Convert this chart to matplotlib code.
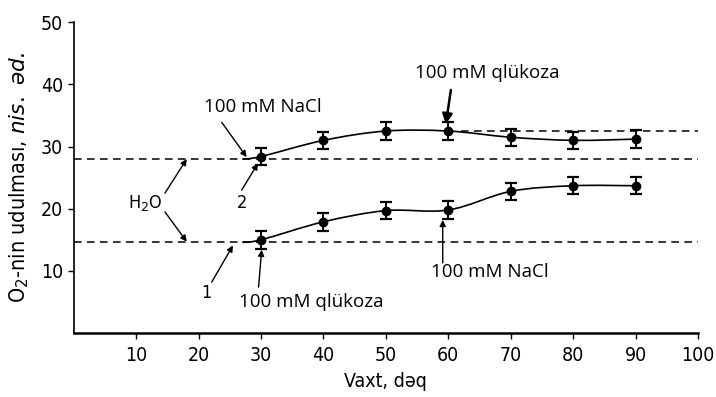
import numpy as np
import matplotlib
matplotlib.use("Agg")
import matplotlib.pyplot as plt
from matplotlib.path import Path
from matplotlib.patches import PathPatch

# data
x_pts = [30, 40, 50, 60, 70, 80, 90]
curve2 = [28.4, 31.0, 32.5, 32.5, 31.5, 31.0, 31.2]   # upper curve (2)
curve1 = [15.0, 17.9, 19.7, 19.8, 22.8, 23.7, 23.7]   # lower curve (1)
err = 1.4
start_x = 27          # curves leave the baseline here
base2 = 28.0          # H2O level, curve 2
base1 = 14.6          # H2O level, curve 1
glu_level = 32.5      # level after glucose on curve 2
glu_from = 62

xticks = [10, 20, 30, 40, 50, 60, 70, 80, 90, 100]
yticks = [10, 20, 30, 40, 50]

narrow = dict(family='DejaVu Sans', stretch='condensed')
note = dict(family=['Open Sans', 'DejaVu Sans'])


# smooth curve through points (Catmull-Rom drawn as bezier path)
def smooth_path(xs, ys):
    xs = np.asarray(xs, float)
    ys = np.asarray(ys, float)
    n = len(xs)
    verts = [(xs[0], ys[0])]
    codes = [Path.MOVETO]
    for i in range(n - 1):
        p0 = np.array([xs[max(i-1, 0)], ys[max(i-1, 0)]])
        p1 = np.array([xs[i], ys[i]])
        p2 = np.array([xs[i+1], ys[i+1]])
        p3 = np.array([xs[min(i+2, n-1)], ys[min(i+2, n-1)]])
        c1 = p1 + (p2 - p0) / 6
        c2 = p2 - (p3 - p1) / 6
        verts += [tuple(c1), tuple(c2), tuple(p2)]
        codes += [Path.CURVE4] * 3
    return Path(verts, codes)


fig = plt.figure(figsize=(7.16, 3.97), dpi=100)
ax = fig.add_axes([0.103, 0.161, 0.872, 0.783])

ax.set_xlim(0, 100)
ax.set_ylim(0, 50)

# baselines
dash = (0, (5, 3.5))
ax.plot([0, 100], [base2, base2], color='black', lw=1.1, linestyle=dash)
ax.plot([0, 100], [base1, base1], color='black', lw=1.1, linestyle=dash)
ax.plot([glu_from, 100], [glu_level, glu_level], color='black', lw=1.1, linestyle=dash)

for ys, b in [(curve2, base2), (curve1, base1)]:
    p = smooth_path([start_x] + x_pts, [b] + ys)
    ax.add_patch(PathPatch(p, facecolor='none', edgecolor='black', lw=1.2))
    ax.errorbar(x_pts, ys, yerr=err, fmt='o', color='black', ms=6,
                elinewidth=1.4, capsize=4, capthick=1.6)


def arrow(x0, y0, x1, y1, lw=1.0, ms=9):
    ax.annotate('', xy=(x1, y1), xytext=(x0, y0),
                arrowprops=dict(arrowstyle='-|>', color='black', lw=lw,
                                mutation_scale=ms, shrinkA=0, shrinkB=0))


# labels and arrows
ax.text(30.3, 36.4, '100 mM NaCl', fontsize=13.5, ha='center', va='center', **note)
arrow(23.7, 33.9, 27.7, 28.3)
ax.text(66.3, 41.8, '100 mM qlükoza', fontsize=13.5, ha='center', va='center', **note)
arrow(60.4, 39.1, 59.6, 33.6, lw=1.8, ms=15)
ax.text(26.9, 20.9, '2', fontsize=13, ha='center', va='center', **narrow)
arrow(26.9, 23.0, 29.5, 27.3)
ax.text(11.4, 21.0, 'H$_2$O', fontsize=13, ha='center', va='center', **narrow)
arrow(14.6, 22.5, 18.1, 28.0)
arrow(14.6, 19.5, 18.1, 14.7)
ax.text(21.3, 6.4, '1', fontsize=13, ha='center', va='center', **narrow)
arrow(22.1, 8.2, 25.5, 14.1)
ax.text(38.1, 5.0, '100 mM qlükoza', fontsize=13.5, ha='center', va='center', **note)
arrow(29.6, 7.4, 30.1, 13.4)
ax.text(66.7, 9.8, '100 mM NaCl', fontsize=13.5, ha='center', va='center', **note)
arrow(59.1, 11.3, 59.1, 18.2)

# axes styling
for s in ['top', 'right']:
    ax.spines[s].set_visible(False)
ax.spines['left'].set_linewidth(1.2)
ax.spines['bottom'].set_linewidth(1.8)
ax.set_xticks(xticks)
ax.set_yticks(yticks)
ax.tick_params(direction='out', length=4, width=1, labelsize=14)
ax.tick_params(axis='x', pad=5)
for lab in ax.get_xticklabels() + ax.get_yticklabels():
    lab.set_family('DejaVu Sans')
    lab.set_stretch('condensed')

ax.set_xlabel('Vaxt, dəq', fontsize=14, labelpad=5, **narrow)
ax.set_ylabel('O$_2$-nin udulması, $\\it{nis.\\ əd.}$', fontsize=15.5,
              labelpad=7, **narrow)

fig.savefig('out.png', dpi=100)
